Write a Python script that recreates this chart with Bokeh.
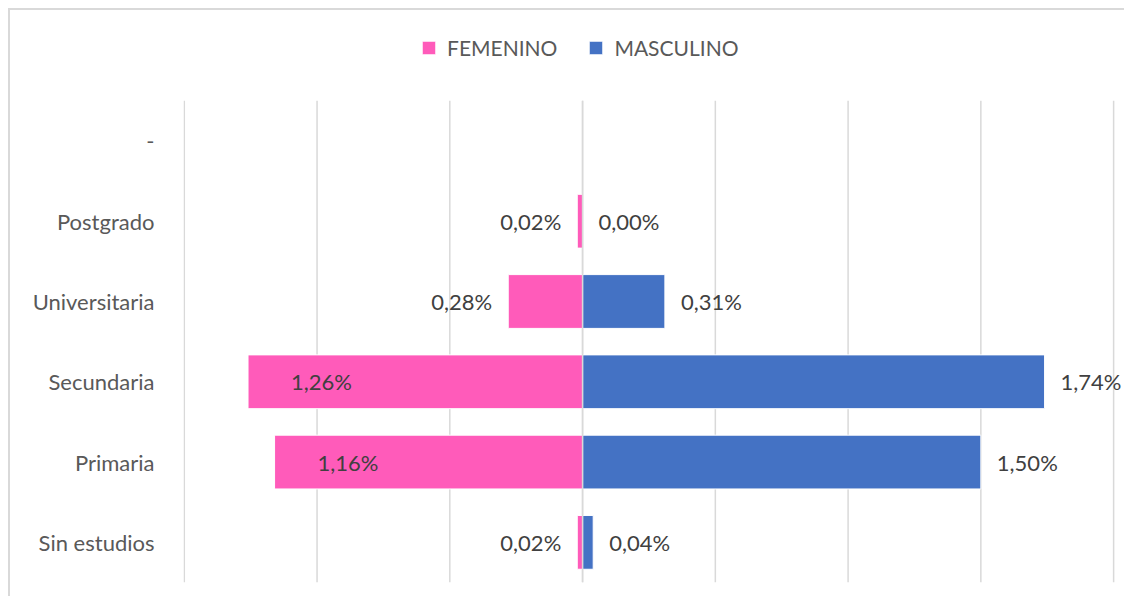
from bokeh.plotting import figure
from bokeh.models import (FactorRange, Range1d, Legend, LegendItem, ColumnDataSource)
from bokeh.core.properties import value
from bokeh.embed import file_html
from bokeh.resources import INLINE

# ---- data ----
categories = ["Sin estudios", "Primaria", "Secundaria", "Universitaria", "Postgrado"]
axis_labels = categories + ["-"]
femenino = [0.02, 1.16, 1.26, 0.28, 0.02]
masculino = [0.04, 1.50, 1.74, 0.31, 0.00]
x_ticks = [-1.5, -1.0, -0.5, 0.0, 0.5, 1.0, 1.5, 2.0]
series_names = ["FEMENINO", "MASCULINO"]

PINK = "#FF5BBA"
BLUE = "#4472C4"
GRID = "#d9d9d9"
FONT = "Lato"
FS = "22px"


def fmt(v):
    return f"{v:.2f}%".replace(".", ",")


src = ColumnDataSource(dict(
    cat=categories,
    fem_left=[-v for v in femenino],
    fem=femenino,
    masc=masculino,
    fem_lbl=[fmt(v) for v in femenino],
    masc_lbl=[fmt(v) for v in masculino],
))

# one blank factor on top leaves room for the legend inside the plot area;
# the x range runs a little past 2.0 so the outermost label is not clipped
p = figure(
    width=1124, height=596,
    y_range=FactorRange(factors=axis_labels + [" "], range_padding=0),
    x_range=Range1d(-1.503, 2.041),
    x_axis_location=None,
    output_backend="svg", toolbar_location=None,
    min_border_left=183, min_border_right=0,
    min_border_bottom=14, min_border_top=20,
)
p.outline_line_color = None
p.background_fill_color = "white"
p.border_fill_alpha = 0
p.styles = {
    "background": (f"linear-gradient({GRID},{GRID}) 8px 8px / 100% 2px no-repeat, "
                   f"linear-gradient({GRID},{GRID}) 8px 8px / 2px 100% no-repeat, white"),
}
p.xgrid.visible = False
p.ygrid.visible = False

yax = p.yaxis[0]
yax.axis_line_color = None
yax.major_tick_line_color = None
yax.major_tick_in = 0
yax.major_tick_out = 0
yax.major_label_standoff = 29
yax.major_label_text_font = FONT
yax.major_label_text_font_size = FS
yax.major_label_text_color = "#595959"

# vertical gridlines spanning only the category rows
n_rows = len(axis_labels)
p.segment(x0=x_ticks, x1=x_ticks, y0=[0] * len(x_ticks), y1=[n_rows] * len(x_ticks),
          line_color=GRID, line_width=1.5, level="underlay")

rf = p.hbar(y="cat", left="fem_left", right=0, height=0.67, source=src,
            fill_color=PINK, line_color="white", line_width=1)
rm = p.hbar(y="cat", left=0, right="masc", height=0.67, source=src,
            fill_color=BLUE, line_color="white", line_width=1)

# zero baseline over the bars
p.segment(x0=[0.0], x1=[0.0], y0=[0], y1=[n_rows], line_color=GRID, line_width=1.5)

lbl_kw = dict(text_font=value(FONT), text_font_size=FS, text_color="#404040",
              text_baseline="middle")

# male labels: outside end
p.text(x="masc", y="cat", text="masc_lbl", source=src, x_offset=16,
       text_align="left", **lbl_kw)

# female labels: inside for long bars, outside for short bars
inside = [i for i, v in enumerate(femenino) if v >= 1.0]
outside = [i for i, v in enumerate(femenino) if v < 1.0]
src_in = ColumnDataSource(dict(
    x=[-femenino[i] for i in inside], cat=[categories[i] for i in inside],
    lbl=[fmt(femenino[i]) for i in inside]))
src_out = ColumnDataSource(dict(
    x=[-femenino[i] for i in outside], cat=[categories[i] for i in outside],
    lbl=[fmt(femenino[i]) for i in outside]))
p.text(x="x", y="cat", text="lbl", source=src_in, x_offset=43,
       text_align="left", **lbl_kw)
p.text(x="x", y="cat", text="lbl", source=src_out, x_offset=-16,
       text_align="right", **lbl_kw)

legend = Legend(
    items=[LegendItem(label=series_names[0], renderers=[rf]),
           LegendItem(label=series_names[1], renderers=[rm])],
    orientation="horizontal", location=(237, 522),
    label_text_font=FONT, label_text_font_size="21px", label_text_color="#595959",
    glyph_width=17, glyph_height=17, label_height=26, label_standoff=10, spacing=30,
    padding=0, margin=0, border_line_color=None, background_fill_alpha=0,
)
p.add_layout(legend)

open("out.html", "w").write(file_html(p, INLINE))
